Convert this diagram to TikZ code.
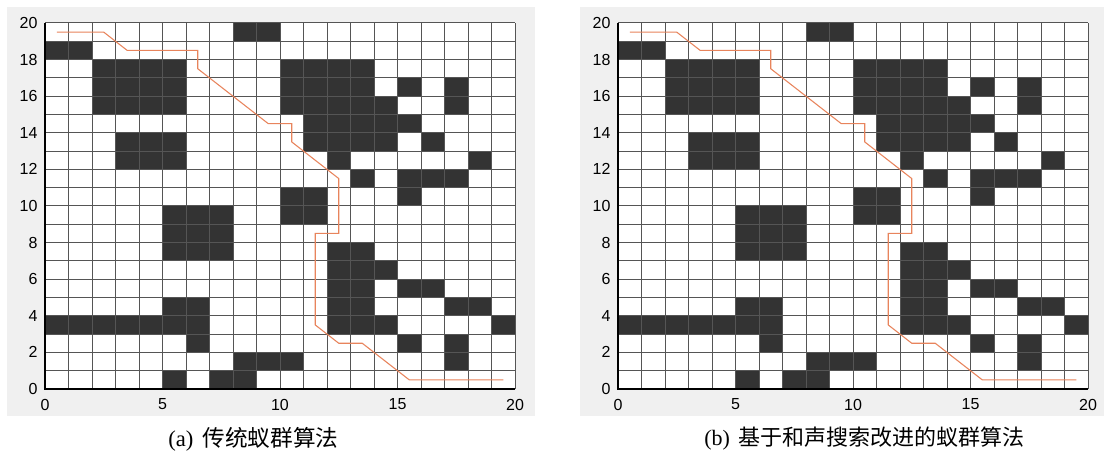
\documentclass[tikz,border=0pt]{standalone}
\usepackage{fontspec}
\setmainfont{Liberation Serif}
\newfontfamily\axfont{Liberation Sans}
\newfontfamily\cjk{Noto Sans CJK SC}
\definecolor{bgc}{HTML}{F0F0F0}
\definecolor{obst}{HTML}{333333}
\definecolor{gridc}{HTML}{555555}
\definecolor{pathc}{HTML}{E8845C}
\def\obslist{19/{8,9},18/{0,1},17/{2,3,4,5,10,11,12,13},16/{2,3,4,5,10,11,12,13,15,17},15/{2,3,4,5,10,11,12,13,14,17},14/{11,12,13,14,15},13/{3,4,5,11,12,13,14,16},12/{3,4,5,12,18},11/{13,15,16,17},10/{10,11,15},9/{5,6,7,10,11},8/{5,6,7},7/{5,6,7,12,13},6/{12,13,14},5/{12,13,15,16},4/{5,6,12,13,17,18},3/{0,1,2,3,4,5,6,12,13,14,19},2/{6,15,17},1/{8,9,10,17},0/{5,7,8}}
\tikzset{
  axlab/.style={font=\axfont\fontsize{12}{14}\selectfont, inner sep=0pt},
  caplab/.style={inner sep=0pt, anchor=west},
  routeline/.style={draw=pathc, line width=0.8pt},
  gridline/.style={draw=gridc, line width=0.75pt},
}
\newcommand\drawpanel[2]{%
  \begin{scope}[xshift=#1*0.75pt, yshift=48.75pt, x=17.625pt, y=13.725pt]
    \fill[white] (0,0) rectangle (20,20);
    \foreach \r/\cols in \obslist {\foreach \c in \cols {\fill[obst] (\c,\r) rectangle ++(1,1);}}
    \foreach \k in {0,...,20} {\draw[gridline] (\k,0) -- (\k,20); \draw[gridline] (0,\k) -- (20,\k);}
    \draw[black, line width=0.8pt] (0,20) -- (0,0) -- (20,0);
    \draw[routeline] (0.5,19.5) -- (2.5,19.5) -- (3.5,18.5) -- (6.5,18.5) -- (6.5,17.5) -- (9.5,14.5) -- (10.5,14.5) -- (10.5,13.5) -- (12.5,11.5) -- (12.5,8.5) -- (11.5,8.5) -- (11.5,3.5) -- (12.5,2.5) -- (13.5,2.5) -- (15.5,0.5) -- (19.5,0.5);
    \foreach \k in {0,2,...,20} {\node[axlab, anchor=east] (yl#2\k) at (-0.31,\k) {\k};}
    \foreach \k in {0,5,...,20} {\node[axlab] (xl#2\k) at (\k,-0.85) {\k};}
  \end{scope}}
\begin{document}
\begin{tikzpicture}[x=0.75pt,y=0.75pt]
\useasboundingbox (0,0) rectangle (1104,454);
\fill[white] (0,0) rectangle (1104,454);
\fill[bgc] (7,38) rectangle (535,447);
\fill[bgc] (580,38) rectangle (1104,447);
\drawpanel{45}{a}
\drawpanel{618}{b}
\node[caplab, font=\fontsize{17}{20}\selectfont] (capa) at (168,15) {(a)\hspace{0.4em}{\cjk 传统蚁群算法}};
\node[caplab, font=\fontsize{16.5}{19}\selectfont] (capb) at (704,15) {(b)\hspace{0.4em}{\cjk 基于和声搜索改进的蚁群算法}};
\end{tikzpicture}
\end{document}
